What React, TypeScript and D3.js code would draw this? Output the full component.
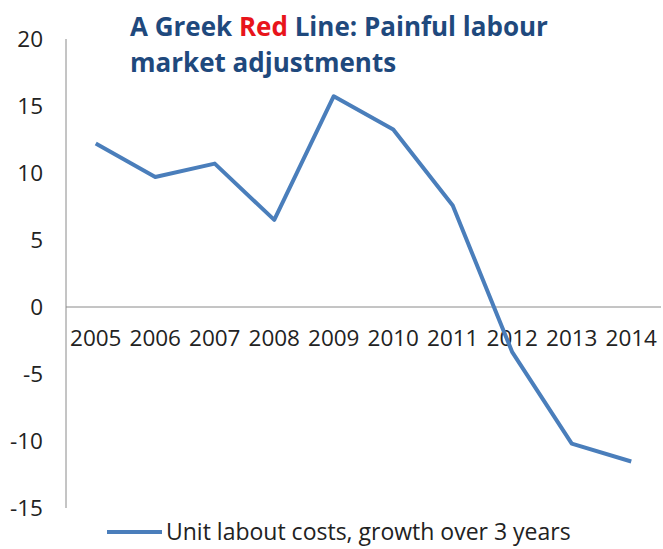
import React from "react";
import * as d3 from "d3";

const years = ["2005", "2006", "2007", "2008", "2009", "2010", "2011", "2012", "2013", "2014"];
const ulcGrowth = [12.2, 9.7, 10.7, 6.5, 15.73, 13.25, 7.57, -3.37, -10.2, -11.53];
const yTicks = [20, 15, 10, 5, 0, -5, -10, -15];
const seriesName = "Unit labout costs, growth over 3 years";

const W = 663;
const H = 549;
const plotLeft = 66;
const plotRight = 661;
const plotTop = 39;
const plotBottom = 508;

export default function App() {
  const x = d3.scaleBand<string>().domain(years).range([plotLeft, plotRight]);
  const y = d3.scaleLinear().domain([-15, 20]).range([plotBottom, plotTop]);
  const line = d3
    .line<number>()
    .x((_, i) => (x(years[i]) as number) + x.bandwidth() / 2)
    .y((d) => y(d));
  const font = "'Open Sans', sans-serif";
  return (
    <svg
      width={W}
      height={H}
      style={{ position: "absolute", left: 0, top: 0, background: "#fff" }}
    >
      <rect width={W} height={H} fill="#fff" />
      {/* y axis */}
      <line x1={plotLeft} x2={plotLeft} y1={y(20)} y2={y(-15)} stroke="#8a8a8a" strokeWidth={1} />
      {/* zero line */}
      <line x1={plotLeft} x2={plotRight} y1={y(0)} y2={y(0)} stroke="#8a8a8a" strokeWidth={1} />
      {yTicks.map((t) => (
        <text
          key={t}
          x={43}
          y={y(t)}
          dy="0.35em"
          textAnchor="end"
          fontFamily={font}
          fontSize={22.5}
          fill="#222"
        >
          {t}
        </text>
      ))}
      {years.map((yr) => (
        <text
          key={yr}
          x={(x(yr) as number) + x.bandwidth() / 2}
          y={y(0) + 31}
          dy="0.35em"
          textAnchor="middle"
          fontFamily={font}
          fontSize={22.5}
          fill="#222"
        >
          {yr}
        </text>
      ))}
      <path
        d={line(ulcGrowth) || ""}
        fill="none"
        stroke="#4a7ebb"
        strokeWidth={4}
        strokeLinejoin="round"
      />
      {/* title */}
      <text x={130} y={36} fontFamily={font} fontWeight="bold" fontSize={26} fill="#1f497d">
        A Greek <tspan fill="#e8141b">Red</tspan> Line: Painful labour
      </text>
      <text x={130} y={72} fontFamily={font} fontWeight="bold" fontSize={26} fill="#1f497d">
        market adjustments
      </text>
      {/* legend */}
      <line x1={107} x2={162} y1={532} y2={532} stroke="#4a7ebb" strokeWidth={4} />
      <text x={166} y={532} dy="0.35em" fontFamily={font} fontSize={23} fill="#222">
        {seriesName}
      </text>
    </svg>
  );
}
